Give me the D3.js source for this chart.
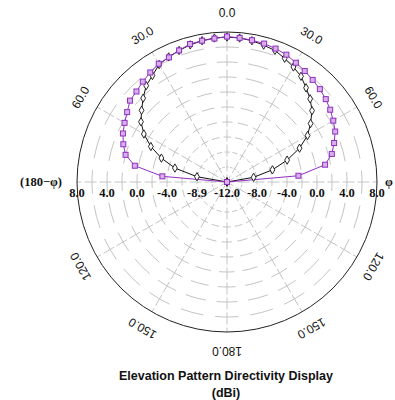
<!DOCTYPE html>
<html>
<head>
<meta charset="utf-8">
<script src="https://cdn.jsdelivr.net/npm/d3@7/dist/d3.min.js"></script>
<style>
  html, body { margin: 0; padding: 0; background: #fff; }
  svg { display: block; }
</style>
</head>
<body>
<svg id="chart" width="395" height="400"></svg>
<script>
// Elevation angles (degrees from zenith), sampled every 5 degrees
const elevAngles = [0, 5, 10, 15, 20, 25, 30, 35, 40, 45, 50, 55, 60, 65, 70, 75, 80, 85, 90];

// Directivity (dBi), square-marker trace: φ side and (180−φ) side
const squaresPhi    = [7.37, 7.29, 7.20, 7.11, 6.93, 6.73, 6.36, 6.07, 5.77, 5.51, 5.19, 4.80, 4.36, 3.92, 3.20, 2.47, 1.28, -2.44, -12.0];
const squaresMirror = [7.40, 7.20, 7.13, 7.05, 6.67, 6.33, 6.21, 5.83, 5.47, 5.07, 4.88, 4.25, 3.77, 3.31, 2.71, 2.00, 0.48, -3.35, -12.0];

// Directivity (dBi), diamond-marker trace
const diamondsPhi    = [7.33, 7.27, 7.13, 6.89, 6.67, 6.20, 5.71, 5.20, 4.40, 3.68, 2.80, 1.60, 0.40, -1.33, -3.47, -5.73, -8.40, -12.0, -12.0];
const diamondsMirror = [7.33, 7.27, 7.13, 6.93, 6.67, 6.40, 6.09, 5.33, 4.76, 3.81, 2.87, 2.00, 0.80, -0.80, -2.69, -4.81, -7.93, -12.0, -12.0];

// Radial axis ticks (dBi) and their printed labels
const leftTickLabels  = ["8.0", "4.0", "0.0", "-4.0", "-8.9", "-12.0"];
const rightTickLabels = ["-8.0", "-4.0", "0.0", "4.0", "8.0"];
const leftTickValues  = [8, 4, 0, -4, -8, -12];
const rightTickValues = [-8, -4, 0, 4, 8];

// Angular labels around the rim
const angleLabelAngles = [0, 30, 60, 120, 150, 180];
const angleLabelTexts  = ["0.0", "30.0", "60.0", "120.0", "150.0", "180.0"];

const gridRings = [-10, -8, -6, -4, -2, 0, 2, 4, 6];
const spokeAngles = d3.range(0, 360, 30);

const cx = 227, cy = 182, R = 150;
const svg = d3.select("#chart");
const g = svg.append("g").attr("transform", `translate(${cx},${cy})`);

const r = d3.scaleLinear().domain([-12, 8]).range([0, R]).clamp(true);
const toRad = d3.scaleLinear().domain([0, 180]).range([0, Math.PI]);

const gridColor = "#c4c4c4";

// Dashed rings, dashes centred on every 15° direction
gridRings.forEach(v => {
  const rad = r(v);
  const L = 2 * Math.PI * rad / 24;
  g.append("circle")
    .attr("r", rad)
    .attr("fill", "none")
    .attr("stroke", gridColor)
    .attr("stroke-width", 1)
    .attr("stroke-dasharray", `${0.66 * L},${0.34 * L}`)
    .attr("stroke-dashoffset", 0.33 * L);
});

// Spokes every 30°, dashes centred on the rings
spokeAngles.forEach(a => {
  const t = toRad(a);
  g.append("line")
    .attr("x1", 0).attr("y1", 0)
    .attr("x2", R * Math.sin(t)).attr("y2", -R * Math.cos(t))
    .attr("stroke", gridColor)
    .attr("stroke-width", 1)
    .attr("stroke-dasharray", "12,3")
    .attr("stroke-dashoffset", 4.5);
});

// Outer rim
g.append("circle")
  .attr("r", r(8))
  .attr("fill", "none")
  .attr("stroke", "#222")
  .attr("stroke-width", 1);

// Angular labels, turned to follow the rim
const labelR = 169;
angleLabelAngles.forEach((a, i) => {
  const sides = (a === 0 || a === 180) ? [1] : [1, -1];
  sides.forEach(s => {
    const ang = a * s;
    const t = toRad(ang);
    const x = labelR * Math.sin(t), y = -labelR * Math.cos(t);
    g.append("text")
      .attr("transform", `translate(${x},${y}) rotate(${ang})`)
      .attr("text-anchor", "middle")
      .attr("dominant-baseline", "central")
      .attr("font-family", "Liberation Sans, Arial, sans-serif")
      .attr("font-size", 12)
      .attr("fill", "#111")
      .text(angleLabelTexts[i]);
  });
});

// Radial tick labels along the horizontal axis
const tickFont = "Liberation Serif, Times New Roman, serif";
leftTickValues.forEach((v, i) => {
  g.append("text")
    .attr("x", -r(v)).attr("y", 15)
    .attr("text-anchor", "middle")
    .attr("font-family", tickFont)
    .attr("font-weight", "bold")
    .attr("font-size", 12.5)
    .attr("fill", "#111")
    .text(leftTickLabels[i]);
});
rightTickValues.forEach((v, i) => {
  g.append("text")
    .attr("x", r(v)).attr("y", 15)
    .attr("text-anchor", "middle")
    .attr("font-family", tickFont)
    .attr("font-weight", "bold")
    .attr("font-size", 12.5)
    .attr("fill", "#111")
    .text(rightTickLabels[i]);
});

// Side captions
svg.append("text")
  .attr("x", 62).attr("y", cy + 4)
  .attr("text-anchor", "end")
  .attr("font-family", tickFont)
  .attr("font-weight", "bold")
  .attr("font-size", 12.5)
  .attr("fill", "#111")
  .text("(180\u2212\u03c6)");
svg.append("text")
  .attr("x", 385).attr("y", cy + 4)
  .attr("text-anchor", "start")
  .attr("font-family", tickFont)
  .attr("font-weight", "bold")
  .attr("font-size", 12.5)
  .attr("fill", "#111")
  .text("\u03c6");

// Build a continuous trace from the (180−φ) side through zenith to the φ side
function trace(mirror, phi) {
  const pts = [];
  for (let i = elevAngles.length - 1; i >= 0; i--) pts.push({ a: -elevAngles[i], v: mirror[i] });
  for (let i = 1; i < elevAngles.length; i++) pts.push({ a: elevAngles[i], v: phi[i] });
  return pts;
}

const radialLine = d3.lineRadial()
  .angle(d => toRad(d.a))
  .radius(d => r(d.v));

const px = d => r(d.v) * Math.sin(toRad(d.a));
const py = d => -r(d.v) * Math.cos(toRad(d.a));

// Diamond trace (black)
const diamondPts = trace(diamondsMirror, diamondsPhi);
g.append("path")
  .datum(diamondPts)
  .attr("d", radialLine)
  .attr("fill", "none")
  .attr("stroke", "#111")
  .attr("stroke-width", 1);

// Square trace (purple)
const purple = "#9030c0";
const squarePts = trace(squaresMirror, squaresPhi);
g.append("path")
  .datum(squarePts)
  .attr("d", radialLine)
  .attr("fill", "none")
  .attr("stroke", purple)
  .attr("stroke-width", 1);

const diamondSym = d3.symbol().type(d3.symbolDiamond).size(20);
g.selectAll(".dmk")
  .data(diamondPts)
  .join("path")
  .attr("class", "dmk")
  .attr("transform", d => `translate(${px(d)},${py(d)})`)
  .attr("d", diamondSym)
  .attr("fill", "#fff")
  .attr("stroke", "#111")
  .attr("stroke-width", 0.9);

g.selectAll(".smk")
  .data(squarePts)
  .join("rect")
  .attr("class", "smk")
  .attr("x", d => px(d) - 2.5)
  .attr("y", d => py(d) - 2.5)
  .attr("width", 5)
  .attr("height", 5)
  .attr("fill", "#d8b0ec")
  .attr("stroke", purple)
  .attr("stroke-width", 1);

// Title
svg.append("text")
  .attr("x", 226).attr("y", 380)
  .attr("text-anchor", "middle")
  .attr("font-family", "Liberation Sans, Arial, sans-serif")
  .attr("font-weight", "bold")
  .attr("font-size", 12.5)
  .attr("fill", "#111")
  .text("Elevation Pattern Directivity Display");
svg.append("text")
  .attr("x", 226).attr("y", 397)
  .attr("text-anchor", "middle")
  .attr("font-family", "Liberation Sans, Arial, sans-serif")
  .attr("font-weight", "bold")
  .attr("font-size", 12.5)
  .attr("fill", "#111")
  .text("(dBi)");
</script>
</body>
</html>
